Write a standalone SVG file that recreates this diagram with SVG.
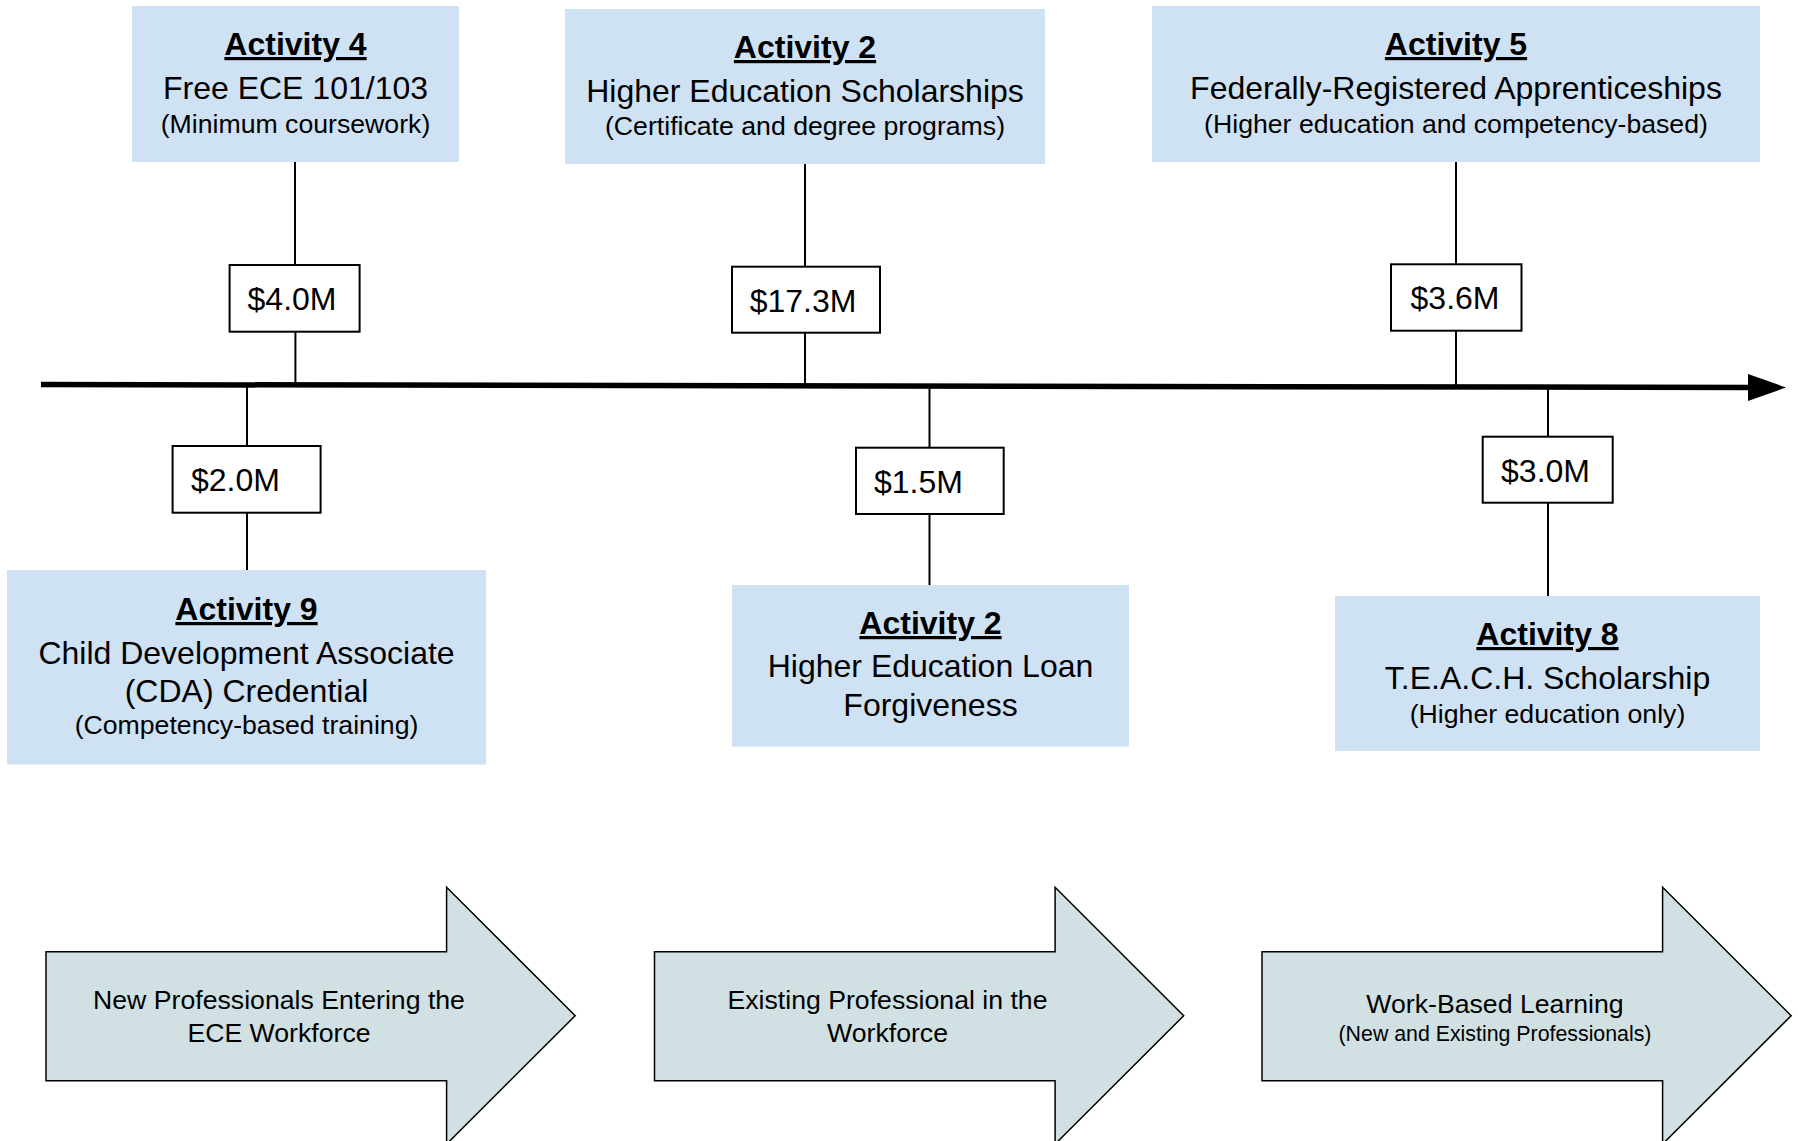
<svg xmlns="http://www.w3.org/2000/svg" xmlns:xlink="http://www.w3.org/1999/xlink" width="1798" height="1141" viewBox="0 0 1798 1141">
<style>
text{font-family:"Liberation Sans",Arial,Helvetica,sans-serif;fill:#000;text-anchor:middle}
.act{fill:#cfe2f3}
.ttl{font-size:32px;font-weight:bold;text-decoration:underline;text-decoration-skip-ink:none}
.main{font-size:32px}
.sub{font-size:26.67px}
.amt rect{fill:#fff;stroke:#000;stroke-width:2}
.amt text{font-size:32px}
.conn line{stroke:#000;stroke-width:2}
.big{fill:#d0e0e3;stroke:#000;stroke-width:1.5}
.btxt{font-size:26.67px}
.bsub{font-size:21.33px}
</style>
<defs>
<path id="bigArrow" d="M0,64.4 H400.6 V0 L529.2,128.4 L400.6,256.8 V193.4 H0 Z"/>
</defs>
<rect width="1798" height="1141" fill="#fff"/>

<g id="connectors" class="conn">
<line x1="295" y1="162" x2="295" y2="265"/>
<line x1="295.4" y1="332" x2="295.4" y2="385"/>
<line x1="805" y1="164" x2="805" y2="267"/>
<line x1="805" y1="333" x2="805" y2="386"/>
<line x1="1456" y1="162" x2="1456" y2="264"/>
<line x1="1456" y1="331" x2="1456" y2="387"/>
<line x1="247" y1="386" x2="247" y2="446"/>
<line x1="247" y1="513" x2="247" y2="570"/>
<line x1="929.5" y1="388" x2="929.5" y2="448"/>
<line x1="929.5" y1="514" x2="929.5" y2="585"/>
<line x1="1548" y1="388" x2="1548" y2="437"/>
<line x1="1548" y1="503" x2="1548" y2="596"/>
</g>

<g id="timeline">
<line x1="41" y1="384.5" x2="1752" y2="387.5" stroke="#000" stroke-width="5.5"/>
<polygon points="1748,374 1786,387.5 1748,401" fill="#000"/>
</g>

<g id="activity4">
<rect class="act" x="132" y="6" width="327" height="156"/>
<text class="ttl" x="295.5" y="55">Activity 4</text>
<text class="main" x="295.5" y="99">Free ECE 101/103</text>
<text class="sub" x="295.5" y="133">(Minimum coursework)</text>
</g>

<g id="activity2-top">
<rect class="act" x="565" y="9" width="480" height="155"/>
<text class="ttl" x="805" y="58">Activity 2</text>
<text class="main" x="805" y="101.5">Higher Education Scholarships</text>
<text class="sub" x="805" y="135">(Certificate and degree programs)</text>
</g>

<g id="activity5">
<rect class="act" x="1152" y="6" width="608" height="156"/>
<text class="ttl" x="1456" y="55">Activity 5</text>
<text class="main" x="1456" y="99">Federally-Registered Apprenticeships</text>
<text class="sub" x="1456" y="133">(Higher education and competency-based)</text>
</g>

<g id="amount-4-0" class="amt">
<rect x="229.6" y="265" width="130" height="66.7"/>
<text x="292" y="310">$4.0M</text>
</g>

<g id="amount-17-3" class="amt">
<rect x="732" y="266.7" width="148" height="66"/>
<text x="803" y="311.7">$17.3M</text>
</g>

<g id="amount-3-6" class="amt">
<rect x="1391" y="264.3" width="130.5" height="66.4"/>
<text x="1455" y="309.3">$3.6M</text>
</g>

<g id="amount-2-0" class="amt">
<rect x="172.6" y="446" width="148" height="66.7"/>
<text x="191" y="490.7" style="text-anchor:start">$2.0M</text>
</g>

<g id="amount-1-5" class="amt">
<rect x="856" y="447.7" width="147.7" height="66.3"/>
<text x="874" y="492.7" style="text-anchor:start">$1.5M</text>
</g>

<g id="amount-3-0" class="amt">
<rect x="1482.7" y="436.7" width="130" height="66"/>
<text x="1545.5" y="481.7">$3.0M</text>
</g>

<g id="activity9">
<rect class="act" x="7" y="570" width="479" height="194.5"/>
<text class="ttl" x="246.5" y="620">Activity 9</text>
<text class="main" x="246.5" y="664">Child Development Associate</text>
<text class="main" x="246.5" y="702">(CDA) Credential</text>
<text class="sub" x="246.5" y="734">(Competency-based training)</text>
</g>

<g id="activity2-bottom">
<rect class="act" x="732" y="585" width="397" height="161.7"/>
<text class="ttl" x="930.5" y="634">Activity 2</text>
<text class="main" x="930.5" y="677">Higher Education Loan</text>
<text class="main" x="930.5" y="716">Forgiveness</text>
</g>

<g id="activity8">
<rect class="act" x="1335" y="596" width="425" height="155"/>
<text class="ttl" x="1547.5" y="645">Activity 8</text>
<text class="main" x="1547.5" y="689.3">T.E.A.C.H. Scholarship</text>
<text class="sub" x="1547.5" y="723.3">(Higher education only)</text>
</g>

<g id="stage-new">
<use xlink:href="#bigArrow" href="#bigArrow" class="big" transform="translate(46,887.3)"/>
<text class="btxt" x="279" y="1009">New Professionals Entering the</text>
<text class="btxt" x="279" y="1041.5">ECE Workforce</text>
</g>

<g id="stage-existing">
<use xlink:href="#bigArrow" href="#bigArrow" class="big" transform="translate(654.5,887.3)"/>
<text class="btxt" x="887.5" y="1009">Existing Professional in the</text>
<text class="btxt" x="887.5" y="1041.5">Workforce</text>
</g>

<g id="stage-work">
<use xlink:href="#bigArrow" href="#bigArrow" class="big" transform="translate(1262,887.3)"/>
<text class="btxt" x="1495" y="1013.3">Work-Based Learning</text>
<text class="bsub" x="1495" y="1041">(New and Existing Professionals)</text>
</g>
</svg>
